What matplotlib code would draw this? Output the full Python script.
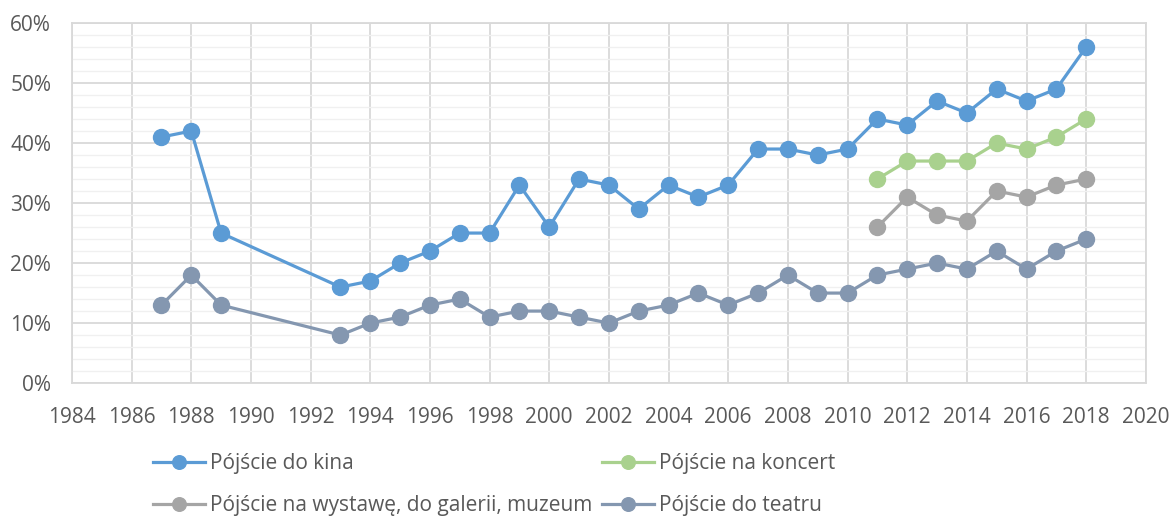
import matplotlib
matplotlib.use('Agg')
import matplotlib.pyplot as plt
import numpy as np
from matplotlib.ticker import MultipleLocator, FuncFormatter

plt.rcParams['font.family'] = ['Open Sans', 'DejaVu Sans']

# Data (percent)
years_long = [1987, 1988, 1989, 1993, 1994, 1995, 1996, 1997, 1998, 1999, 2000,
              2001, 2002, 2003, 2004, 2005, 2006, 2007, 2008, 2009, 2010,
              2011, 2012, 2013, 2014, 2015, 2016, 2017, 2018]
years_short = [2011, 2012, 2013, 2014, 2015, 2016, 2017, 2018]

kino = [41, 42, 25, 16, 17, 20, 22, 25, 25, 33, 26,
        34, 33, 29, 33, 31, 33, 39, 39, 38, 39,
        44, 43, 47, 45, 49, 47, 49, 56]
koncert = [34, 37, 37, 37, 40, 39, 41, 44]
wystawa = [26, 31, 28, 27, 32, 31, 33, 34]
teatr = [13, 18, 13, 8, 10, 11, 13, 14, 11, 12, 12,
         11, 10, 12, 13, 15, 13, 15, 18, 15, 15,
         18, 19, 20, 19, 22, 19, 22, 24]

series = [
    ('Pójście do kina', years_long, kino, '#5B9BD5'),
    ('Pójście na koncert', years_short, koncert, '#A9D18E'),
    ('Pójście na wystawę, do galerii, muzeum', years_short, wystawa, '#A5A5A5'),
    ('Pójście do teatru', years_long, teatr, '#8497B0'),
]

fig = plt.figure(figsize=(11.74, 5.17), dpi=100)
ax = fig.add_axes([0.0613, 0.259, 0.9147, 0.6965])

lines = []
for label, x, y, c in series:
    ln, = ax.plot(x, np.array(y) / 100, color=c, lw=2.3, marker='o', ms=11.5,
                  label=label, zorder=3)
    lines.append(ln)

ax.set_xlim(1984, 2020)
ax.set_ylim(0, 0.6)
ax.xaxis.set_major_locator(MultipleLocator(2))
ax.yaxis.set_major_locator(MultipleLocator(0.1))
ax.yaxis.set_minor_locator(MultipleLocator(0.02))
ax.yaxis.set_major_formatter(FuncFormatter(lambda v, p: f'{v*100:.0f}%'))

ax.grid(which='major', color='#D9D9D9', lw=1.3, zorder=0)
ax.grid(which='minor', axis='y', color='#F0F0F0', lw=1.0, zorder=0)
ax.set_axisbelow(True)
for s in ax.spines.values():
    s.set_color('#D9D9D9')
    s.set_linewidth(1.3)
ax.tick_params(which='both', length=0, labelsize=15, colors='#595959')
ax.tick_params(axis='y', pad=15)
ax.tick_params(axis='x', pad=17)

# row-wise order: kino, koncert / wystawa, teatr
order = [0, 2, 1, 3]
fig.legend([lines[i] for i in order], [series[i][0] for i in order],
           loc='upper left', bbox_to_anchor=(0.114, 0.16), ncol=2,
           frameon=False, fontsize=15, labelcolor='#595959',
           handlelength=2.5, handletextpad=0.25, columnspacing=0.45,
           labelspacing=1.0, markerscale=0.85)

fig.savefig('out.png', dpi=100)
